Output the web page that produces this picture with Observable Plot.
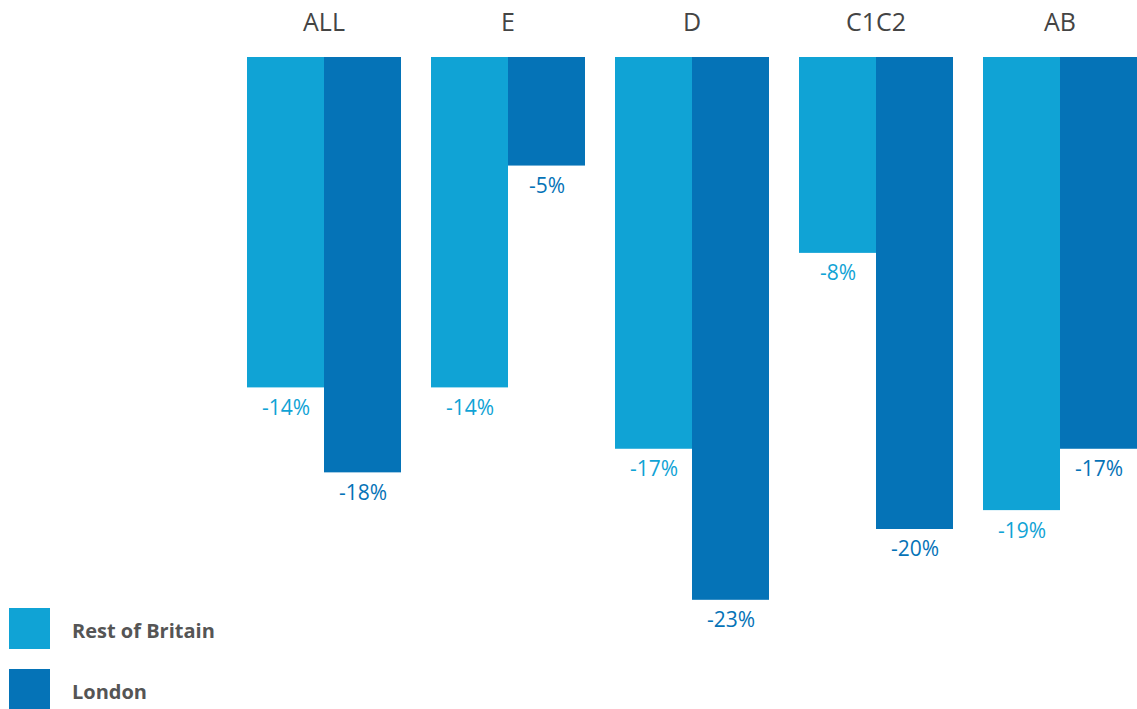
<!DOCTYPE html>
<html>
<head>
<meta charset="utf-8">
<script src="https://cdn.jsdelivr.net/npm/d3@7"></script>
<script src="https://cdn.jsdelivr.net/npm/@observablehq/plot@0.6"></script>
<style>
  html, body { margin: 0; padding: 0; background: #fff; }
  #wrap { position: relative; width: 1137px; height: 709px; font-family: "Open Sans", "Noto Sans", sans-serif; }
  #legend { position: absolute; left: 9px; top: 608px; }
  .item { display: flex; align-items: center; height: 41px; margin-bottom: 20px; }
  .sw { width: 41px; height: 41px; margin-right: 22px; }
  .lab { font-size: 20px; font-weight: 700; color: #555; padding-top: 4px; }
</style>
</head>
<body>
<div id="wrap"></div>
<script>
const categories = ["ALL", "E", "D", "C1C2", "AB"];
const seriesNames = ["Rest of Britain", "London"];
const seriesColors = ["#10a3d5", "#0573b7"];
const restOfBritain = [-14.0, -14.0, -16.6, -8.3, -19.2];
const london = [-17.6, -4.6, -23.0, -20.0, -16.6];

const data = [];
categories.forEach((c, i) => {
  data.push({category: c, series: seriesNames[0], value: restOfBritain[i]});
  data.push({category: c, series: seriesNames[1], value: london[i]});
});
const labelColor = new Map(seriesNames.map((s, i) => [s, seriesColors[i]]));

const chart = Plot.plot({
  width: 1137,
  height: 709,
  marginTop: 57,
  marginBottom: 62,
  marginLeft: 246,
  marginRight: 0,
  style: {fontFamily: "'Open Sans', 'Noto Sans', sans-serif", background: "#fff", overflow: "visible"},
  fx: {domain: categories, paddingInner: 0.16, paddingOuter: 0, label: null},
  x: {domain: seriesNames, padding: 0, axis: null},
  y: {domain: [-25, 0], axis: null},
  color: {domain: seriesNames, range: seriesColors},
  marks: [
    Plot.axisFx({anchor: "top", tickSize: 0, tickPadding: 27, fontSize: 25, fill: "#444", label: null}),
    Plot.barY(data, {fx: "category", x: "series", y: "value", fill: "series"}),
    Plot.text(data, {
      fx: "category", x: "series", y: "value",
      text: d => Math.round(d.value) + "%",
      fill: d => labelColor.get(d.series),
      lineAnchor: "top", dy: 12, fontSize: 21
    })
  ]
});

const wrap = document.getElementById("wrap");
wrap.appendChild(chart);
const legend = document.createElement("div");
legend.id = "legend";
seriesNames.forEach((s, i) => {
  const item = document.createElement("div");
  item.className = "item";
  item.innerHTML = `<div class="sw" style="background:${seriesColors[i]}"></div><div class="lab">${s}</div>`;
  legend.appendChild(item);
});
wrap.appendChild(legend);
</script>
</body>
</html>
